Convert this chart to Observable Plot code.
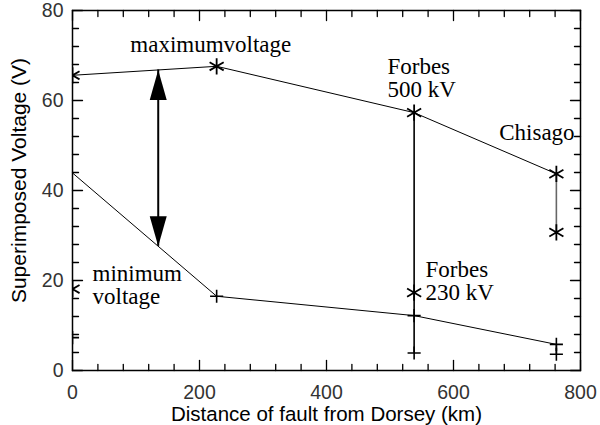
<!DOCTYPE html>
<html>
<head>
<meta charset="utf-8">
<script src="https://cdn.jsdelivr.net/npm/d3@7"></script>
<script src="https://cdn.jsdelivr.net/npm/@observablehq/plot@0.6"></script>
<style>
  html, body { margin: 0; padding: 0; background: white; }
</style>
</head>
<body>
<div id="chart"></div>
<script>
// Stations: distance of fault from Dorsey (km)
const dist = [0, 227, 538, 762];
// Maximum voltage line (asterisks)
const maxV = [65.6, 67.6, 57.3, 43.7];
// Minimum voltage line (plus signs)
const minV = [43.9, 16.5, 12.2, 5.8];
// Secondary asterisk readings
const astDist = [0, 538, 762];
const astV = [18.1, 17.3, 30.7];
// Secondary plus readings
const plusDist = [0, 538, 762];
const plusV = [7.3, 3.9, 3.6];
// Vertical ranges
const spanDist = [538, 762, 762];
const spanTop = [57.3, 43.7, 5.8];
const spanBot = [3.9, 30.7, 3.6];
const spanColor = ["#000", "#666", "#444"];
// Double arrow (range between maximum and minimum)
const arrowDist = [135];
const arrowTop = [66.8];
const arrowBot = [27.6];
// Annotations
const labelText = ["maximumvoltage", "Forbes\n500 kV", "Chisago", "Forbes\n230 kV", "minimum\nvoltage"];
const labelX = [91, 496, 672, 556, 31.5];
const labelY = [70.7, 60.7, 51.3, 15.6, 14.7];
// Ticks
const xMajor = [0, 200, 400, 600, 800];
const xMinor = [40, 80, 120, 160, 240, 280, 320, 360, 440, 480, 520, 560, 640, 680, 720, 760];
const yMajor = [0, 20, 40, 60, 80];
const yMinor = [4, 8, 12, 16, 24, 28, 32, 36, 44, 48, 52, 56, 64, 68, 72, 76];

const xDomain = [0, 800], yDomain = [0, 80];
const W = 600, H = 425, mL = 72, mR = 20, mT = 10, mB = 55;
const fW = W - mL - mR, fH = H - mT - mB;
// tick lengths in pixels, converted to data units
const minorLen = 6, majorLen = 10;
const yPerPx = (yDomain[1] - yDomain[0]) / fH;
const xPerPx = (xDomain[1] - xDomain[0]) / fW;

const maxPts = dist.map((d, i) => ({x: d, y: maxV[i]}));
const minPts = dist.map((d, i) => ({x: d, y: minV[i]}));
const astPts = astDist.map((d, i) => ({x: d, y: astV[i]}));
const plusPts = plusDist.map((d, i) => ({x: d, y: plusV[i]}));
const spans = spanDist.map((d, i) => ({x: d, y1: spanTop[i], y2: spanBot[i], c: spanColor[i]}));
const arrows = arrowDist.map((d, i) => ({x: d, top: arrowTop[i], bot: arrowBot[i]}));
const labels = labelText.map((t, i) => ({t, x: labelX[i], y: labelY[i]}));

// tick segments as two-point polylines (grouped by id)
const tickPts = [];
let tid = 0;
for (const [vals, len] of [[xMinor, minorLen], [xMajor, majorLen]]) {
  for (const v of vals) {
    tid++;
    tickPts.push({id: tid, x: v, y: yDomain[0]}, {id: tid, x: v, y: yDomain[0] + len * yPerPx});
    tid++;
    tickPts.push({id: tid, x: v, y: yDomain[1] - len * yPerPx}, {id: tid, x: v, y: yDomain[1]});
  }
}
for (const [vals, len] of [[yMinor, minorLen], [yMajor, majorLen]]) {
  for (const v of vals) {
    tid++;
    tickPts.push({id: tid, x: xDomain[0], y: v}, {id: tid, x: xDomain[0] + len * xPerPx, y: v});
    tid++;
    tickPts.push({id: tid, x: xDomain[1] - len * xPerPx, y: v}, {id: tid, x: xDomain[1], y: v});
  }
}

const headUp = {draw(ctx) { ctx.moveTo(0, 0); ctx.lineTo(-8.5, 30); ctx.lineTo(8.5, 30); ctx.closePath(); }};
const headDown = {draw(ctx) { ctx.moveTo(0, 0); ctx.lineTo(-8.5, -30); ctx.lineTo(8.5, -30); ctx.closePath(); }};

const tickFont = 19.5;
const sans = "Liberation Sans, Arial, sans-serif";
const serif = "Liberation Serif, Times New Roman, serif";

const chart = Plot.plot({
  width: W,
  height: H,
  marginLeft: mL,
  marginRight: mR,
  marginTop: mT,
  marginBottom: mB,
  x: {domain: xDomain},
  y: {domain: yDomain},
  style: {background: "white", fontFamily: sans, color: "black"},
  marks: [
    Plot.frame({stroke: "black", strokeWidth: 1.5, fill: "none"}),
    // tick labels
    Plot.axisX(xMajor, {anchor: "bottom", tickSize: 0, tickPadding: 15, label: null, fontSize: tickFont, fill: "#333"}),
    Plot.axisY(yMajor, {anchor: "left", tickSize: 0, tickPadding: 9, label: null, fontSize: tickFont, fill: "#333"}),
    // inward ticks on all four sides
    Plot.line(tickPts, {x: "x", y: "y", z: "id", stroke: "black", strokeWidth: 1.3}),
    // axis titles
    Plot.text(["Distance of fault from Dorsey (km)"], {frameAnchor: "bottom", dy: 50, textAnchor: "middle", lineAnchor: "bottom", fontSize: 20.5, fontFamily: sans}),
    Plot.text(["Superimposed Voltage (V)"], {frameAnchor: "left", dx: -47, dy: -10, rotate: -90, textAnchor: "middle", lineAnchor: "bottom", fontSize: 21, fontFamily: sans}),
    // vertical spans
    Plot.ruleX(spans, {x: "x", y1: "y1", y2: "y2", stroke: "c", strokeWidth: 1.6}),
    // lines
    Plot.line(maxPts, {x: "x", y: "y", stroke: "black", strokeWidth: 1}),
    Plot.line(minPts, {x: "x", y: "y", stroke: "black", strokeWidth: 1}),
    // markers
    Plot.dot(maxPts, {x: "x", y: "y", symbol: "asterisk", r: 7.7, stroke: "black", strokeWidth: 1.8, clip: true}),
    Plot.dot(astPts, {x: "x", y: "y", symbol: "asterisk", r: 7.7, stroke: "black", strokeWidth: 1.8, clip: true}),
    Plot.dot(minPts.slice(1), {x: "x", y: "y", symbol: "plus", r: 4.3, stroke: "black", strokeWidth: 1.6, clip: true}),
    Plot.dot(plusPts, {x: "x", y: "y", symbol: "plus", r: 4.3, stroke: "black", strokeWidth: 1.6, clip: true}),
    // double arrow
    Plot.ruleX(arrows, {x: "x", y1: "top", y2: "bot", stroke: "black", strokeWidth: 2}),
    Plot.dot(arrows, {x: "x", y: "top", symbol: headUp, fill: "black", stroke: "none"}),
    Plot.dot(arrows, {x: "x", y: "bot", symbol: headDown, fill: "black", stroke: "none"}),
    // annotations
    Plot.text(labels, {x: "x", y: "y", text: "t", textAnchor: "start", lineAnchor: "bottom", lineHeight: 1.0, fontSize: 23, fontFamily: serif, fill: "black"})
  ]
});
document.getElementById("chart").appendChild(chart);
</script>
</body>
</html>
